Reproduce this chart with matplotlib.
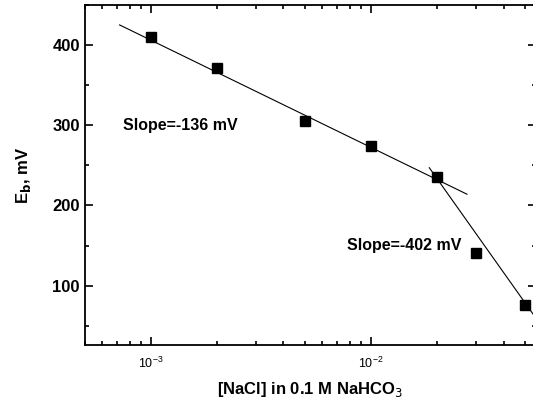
import numpy as np
import matplotlib.pyplot as plt
from matplotlib.ticker import LogLocator, NullFormatter, MultipleLocator

plt.rcParams['font.family'] = ['Liberation Sans', 'DejaVu Sans']

# data
nacl = [1e-3, 2e-3, 5e-3, 1e-2, 2e-2, 3e-2, 5e-2]
eb = [410, 371, 305, 274, 235, 141, 76]

# fitted lines (end points)
fit1_x = [7.2e-4, 2.73e-2]
fit1_y = [425, 214]
fit2_x = [1.84e-2, 5.6e-2]
fit2_y = [247, 60]

fig = plt.figure(figsize=(5.33, 4.05), dpi=100)
ax = fig.add_axes([0.159, 0.148, 0.846, 0.840])

ax.plot(fit1_x, fit1_y, color='black', lw=0.8)
ax.plot(fit2_x, fit2_y, color='black', lw=0.8)
ax.plot(nacl, eb, 's', color='black', ms=6.5)

ax.set_xscale('log')
ax.set_xlim(5e-4, 0.056)
ax.set_ylim(26, 450)

ax.yaxis.set_major_locator(MultipleLocator(100))
ax.yaxis.set_minor_locator(MultipleLocator(50))
ax.xaxis.set_major_locator(LogLocator(base=10, numticks=10))
ax.xaxis.set_minor_locator(LogLocator(base=10, subs=np.arange(2, 10), numticks=10))
ax.xaxis.set_minor_formatter(NullFormatter())

ax.tick_params(which='both', direction='in', top=True, right=True, width=1.2)
ax.tick_params(which='major', length=6)
ax.tick_params(which='minor', length=3)
ax.tick_params(axis='y', labelsize=12)
ax.tick_params(axis='x', labelsize=9, pad=8)
for lab in ax.get_yticklabels():
    lab.set_fontweight('bold')
for s in ax.spines.values():
    s.set_linewidth(1.3)

ax.set_xlabel('[NaCl] in 0.1 M NaHCO$_3$', fontsize=12, fontweight='bold', labelpad=6)
ax.set_ylabel(r'E$_{\mathbf{b}}$, mV', fontsize=12, fontweight='bold', labelpad=14)

ax.text(7.5e-4, 300, 'Slope=-136 mV', fontsize=11.5, fontweight='bold', va='center')
ax.text(7.8e-3, 150, 'Slope=-402 mV', fontsize=11.5, fontweight='bold', va='center')

plt.savefig('out.png', dpi=100)
